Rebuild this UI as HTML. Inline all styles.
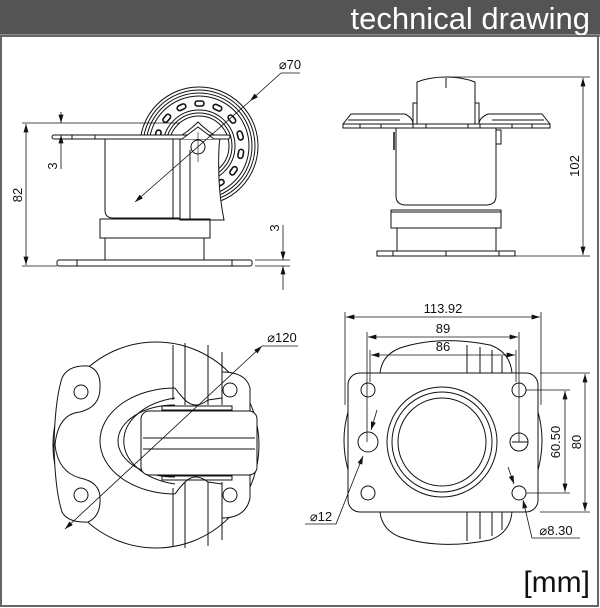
<!DOCTYPE html>
<html><head><meta charset="utf-8"><style>
html,body{margin:0;padding:0;background:#fff}
svg{display:block}
text{font-family:"Liberation Sans",Arial,sans-serif;fill:#111}
</style></head><body>
<svg width="600" height="608" viewBox="0 0 600 608" xmlns="http://www.w3.org/2000/svg">
<defs>
<marker id="a" viewBox="0 0 10 6" refX="10" refY="3" markerWidth="9" markerHeight="5" orient="auto-start-reverse" markerUnits="userSpaceOnUse"><path d="M0,0L10,3L0,6z" fill="#111"/></marker>
</defs>
<rect x="0" y="0" width="600" height="608" fill="#fff"/>
<rect x="0" y="0" width="600" height="35" fill="#545454"/>
<rect x="0" y="34" width="600" height="3" fill="#8a8a8a"/>
<text x="590" y="29" font-size="31" style="fill:#fff" text-anchor="end">technical drawing</text>
<rect x="1" y="36" width="597" height="570" fill="none" stroke="#666" stroke-width="2"/>

<g fill="none" stroke="#111" stroke-width="1">
<!-- TOP LEFT VIEW -->
<g>
<circle cx="199" cy="146" r="59"/><circle cx="199" cy="146" r="56"/><circle cx="199" cy="146" r="53"/><circle cx="199" cy="146" r="50"/>
<circle cx="199" cy="146" r="36"/><circle cx="199" cy="146" r="33"/><circle cx="199" cy="146" r="30"/>
<g stroke-width="1.6">
<rect x="195" y="101" width="9" height="5" rx="2.5"/>
<rect x="195" y="101" width="9" height="5" rx="2.5" transform="rotate(25 199 146)"/>
<rect x="195" y="101" width="9" height="5" rx="2.5" transform="rotate(50 199 146)"/>
<rect x="195" y="101" width="9" height="5" rx="2.5" transform="rotate(75 199 146)"/>
<rect x="195" y="101" width="9" height="5" rx="2.5" transform="rotate(100 199 146)"/>
<rect x="195" y="101" width="9" height="5" rx="2.5" transform="rotate(125 199 146)"/>
<rect x="195" y="101" width="9" height="5" rx="2.5" transform="rotate(150 199 146)"/>
<rect x="195" y="101" width="9" height="5" rx="2.5" transform="rotate(-25 199 146)"/>
<rect x="195" y="101" width="9" height="5" rx="2.5" transform="rotate(-50 199 146)"/>
<rect x="195" y="101" width="9" height="5" rx="2.5" transform="rotate(-75 199 146)"/>
</g>
<path d="M180 138 L180 220 L224 220 Q220 200 219 180 Q218 150 220 138 Z" fill="#fff"/>
<path d="M105 139 L105 210 Q105 218 113 218 L180 218 L180 139 Z" fill="#fff"/>
<rect x="52" y="135" width="178" height="4" rx="2" fill="#fff"/>
<line x1="72" y1="135" x2="72" y2="139"/><line x1="95" y1="135" x2="95" y2="139"/>
<path d="M182 139 Q190 133 198 127 Q206 133 214 139" fill="#fff"/>
<path d="M182 135 Q190 130 198 122 Q206 130 214 135"/>
<circle cx="198" cy="147" r="7" fill="#fff"/>
<line x1="198" y1="132" x2="198" y2="162" stroke-width="0.6"/>
<line x1="173" y1="139" x2="173" y2="218"/><line x1="190" y1="150" x2="190" y2="220"/>
<rect x="100" y="219" width="110" height="19"/>
<rect x="105" y="238" width="99" height="22"/>
<rect x="57" y="260" width="195" height="6" rx="2"/>
<line x1="77" y1="260" x2="77" y2="266"/><line x1="232" y1="260" x2="232" y2="266"/>
</g>
<g stroke-width="0.8">
<line x1="22" y1="123" x2="180" y2="123"/>
<line x1="22" y1="266" x2="57" y2="266"/>
<line x1="26" y1="124" x2="26" y2="265" marker-start="url(#a)" marker-end="url(#a)"/>
<line x1="61" y1="112" x2="61" y2="123" marker-end="url(#a)"/>
<line x1="61" y1="169" x2="61" y2="135" marker-end="url(#a)"/>
<line x1="255" y1="260" x2="290" y2="260"/>
<line x1="255" y1="266" x2="290" y2="266"/>
<line x1="283" y1="225" x2="283" y2="260" marker-end="url(#a)"/>
<line x1="283" y1="290" x2="283" y2="266" marker-end="url(#a)"/>
<line x1="135" y1="202" x2="250" y2="101" marker-start="url(#a)"/>
<line x1="250" y1="101" x2="281" y2="73" marker-start="url(#a)"/>
<line x1="281" y1="73" x2="300" y2="73"/>
</g>
<!-- TOP RIGHT VIEW -->
<g>
<path d="M417 124 L417 82 Q430 77 446 77 Q462 77 475 82 L475 124"/>
<line x1="446" y1="78" x2="446" y2="88"/>
<path d="M413 124 L413 103 L417 103 M479 124 L479 103 L475 103"/>
<path d="M343 124 L351 114 L405 114 Q413 118 413 124"/>
<path d="M550 124 L542 114 L488 114 Q479 118 479 124"/>
<path d="M348 120 L400 120 M544 120 L492 120"/>
<rect x="343" y="124" width="207" height="4"/>
<line x1="360" y1="124" x2="360" y2="128"/><line x1="381" y1="124" x2="381" y2="128"/><line x1="413" y1="124" x2="413" y2="128"/><line x1="426" y1="124" x2="426" y2="128"/><line x1="468" y1="124" x2="468" y2="128"/><line x1="480" y1="124" x2="480" y2="128"/><line x1="512" y1="124" x2="512" y2="128"/><line x1="532" y1="124" x2="532" y2="128"/>
<path d="M396 128 L396 196 Q396 205 406 205 L486 205 Q496 205 496 196 L496 128"/>
<rect x="496" y="130" width="5" height="14"/>
<line x1="394" y1="132" x2="394" y2="150" stroke-width="1.5"/>
<rect x="391" y="210" width="110" height="18"/>
<line x1="391" y1="212" x2="501" y2="212"/>
<rect x="397" y="228" width="99" height="23"/>
<rect x="377" y="251" width="138" height="5"/>
<line x1="393" y1="251" x2="393" y2="256"/><line x1="446" y1="251" x2="446" y2="256"/><line x1="499" y1="251" x2="499" y2="256"/>
</g>
<g stroke-width="0.8">
<line x1="446" y1="77" x2="590" y2="77"/>
<line x1="515" y1="256" x2="590" y2="256"/>
<line x1="583" y1="78" x2="583" y2="255" marker-start="url(#a)" marker-end="url(#a)"/>
</g>
<!-- BOTTOM LEFT VIEW -->
<g>
<circle cx="156" cy="445" r="103"/>
<path d="M62 378 Q68 365 88 366 Q101 370 100 388 Q100 407 80 412 Q58 414 55 445 Q58 472 80 478 Q100 482 100 498 Q101 516 88 522 Q68 523 62 512 Q55 490 54 445 Q55 400 62 378 Z" fill="#fff"/>
<circle cx="81" cy="392" r="7"/><circle cx="81" cy="495" r="7"/>
<path d="M222 372 Q246 372 250 388 L250 498 Q246 518 222 518" fill="#fff"/>
<circle cx="230" cy="390" r="7"/><circle cx="230" cy="495" r="7"/>
<line x1="173" y1="345" x2="173" y2="400"/><line x1="185" y1="343" x2="185" y2="405"/><line x1="208" y1="345" x2="208" y2="405"/><line x1="222" y1="352" x2="222" y2="405"/>
<line x1="173" y1="488" x2="173" y2="546"/><line x1="185" y1="482" x2="185" y2="548"/><line x1="208" y1="482" x2="208" y2="546"/><line x1="222" y1="482" x2="222" y2="540"/>
<path d="M175 388 A75 53 0 0 0 175 494"/>
<path d="M175 398 A65 44 0 0 0 175 484"/>
<path d="M175 405 A57 36 0 0 0 175 477"/>
<path d="M175 388 Q180 395 185 400 Q195 410 208 400 L222 398"/>
<path d="M175 494 Q180 487 185 482 Q195 472 208 482 L222 484"/>
<rect x="162" y="406" width="70" height="4"/><rect x="162" y="476" width="70" height="4"/>
<rect x="141" y="411" width="116" height="64" rx="8" fill="#fff"/>
<line x1="143" y1="438" x2="255" y2="438"/><line x1="143" y1="449" x2="255" y2="449"/>
</g>
<g stroke-width="0.8">
<line x1="65" y1="529" x2="262" y2="346" marker-start="url(#a)" marker-end="url(#a)"/>
<line x1="262" y1="346" x2="298" y2="346"/>
</g>
<!-- BOTTOM RIGHT VIEW -->
<g>
<path d="M380 373 Q382 355 400 348 Q440 335 490 345 Q510 352 512 373"/>
<path d="M380 512 Q382 530 400 537 Q440 550 490 540 Q510 533 512 512"/>
<line x1="467" y1="345" x2="467" y2="373"/><line x1="480" y1="347" x2="480" y2="373"/><line x1="492" y1="350" x2="492" y2="373"/><line x1="502" y1="356" x2="502" y2="373"/>
<line x1="467" y1="512" x2="467" y2="541"/><line x1="480" y1="512" x2="480" y2="539"/><line x1="492" y1="512" x2="492" y2="536"/><line x1="502" y1="512" x2="502" y2="530"/>
<path d="M348 412 Q340 440 348 470"/><path d="M538 412 Q546 440 538 470"/>
<rect x="348" y="373" width="190" height="139" rx="12" fill="#fff"/>
<circle cx="368" cy="390" r="7"/><circle cx="368" cy="493" r="7"/><circle cx="368" cy="442" r="10"/>
<circle cx="519" cy="390" r="7"/><circle cx="519" cy="493" r="7"/><circle cx="519" cy="442" r="9"/>
<line x1="512" y1="442" x2="528" y2="442"/>
<circle cx="442" cy="442" r="55"/><circle cx="442" cy="442" r="50"/><circle cx="442" cy="442" r="44"/>
</g>
<g stroke-width="0.8">
<line x1="345" y1="312" x2="345" y2="405"/><line x1="541" y1="312" x2="541" y2="405"/>
<line x1="346" y1="317" x2="540" y2="317" marker-start="url(#a)" marker-end="url(#a)"/>
<line x1="367" y1="332" x2="367" y2="442"/><line x1="519" y1="332" x2="519" y2="442"/>
<line x1="368" y1="337" x2="518" y2="337" marker-start="url(#a)" marker-end="url(#a)"/>
<line x1="370" y1="350" x2="370" y2="382"/><line x1="516" y1="350" x2="516" y2="382"/>
<line x1="371" y1="355" x2="515" y2="355" marker-start="url(#a)" marker-end="url(#a)"/>
<line x1="526" y1="390" x2="570" y2="390"/><line x1="526" y1="493" x2="570" y2="493"/>
<line x1="565" y1="391" x2="565" y2="492" marker-start="url(#a)" marker-end="url(#a)"/>
<line x1="540" y1="373" x2="590" y2="373"/><line x1="540" y1="512" x2="590" y2="512"/>
<line x1="585" y1="374" x2="585" y2="511" marker-start="url(#a)" marker-end="url(#a)"/>
<line x1="377" y1="410" x2="371" y2="430" marker-end="url(#a)"/>
<line x1="363" y1="456" x2="336" y2="524" marker-start="url(#a)"/>
<line x1="336" y1="524" x2="305" y2="524"/>
<line x1="508" y1="467" x2="514" y2="484" marker-end="url(#a)"/>
<line x1="523" y1="500" x2="532" y2="538" marker-start="url(#a)"/>
<line x1="532" y1="538" x2="580" y2="538"/>
</g>
</g>

<g font-size="13">
<text x="290" y="69" text-anchor="middle">⌀70</text>
<text x="22" y="195" text-anchor="middle" transform="rotate(-90 22 195)">82</text>
<text x="57" y="166" text-anchor="middle" transform="rotate(-90 57 166)">3</text>
<text x="279" y="228" text-anchor="middle" transform="rotate(-90 279 228)">3</text>
<text x="579" y="166" text-anchor="middle" transform="rotate(-90 579 166)">102</text>
<text x="282" y="342" text-anchor="middle">⌀120</text>
<text x="443" y="313" text-anchor="middle">113.92</text>
<text x="443" y="333" text-anchor="middle">89</text>
<text x="443" y="351" text-anchor="middle">86</text>
<text x="560" y="442" text-anchor="middle" transform="rotate(-90 560 442)">60.50</text>
<text x="581" y="442" text-anchor="middle" transform="rotate(-90 581 442)">80</text>
<text x="321" y="521" text-anchor="middle">⌀12</text>
<text x="556" y="535" text-anchor="middle">⌀8.30</text>
</g>
<text x="590" y="592" font-size="30" text-anchor="end">[mm]</text>
</svg>
</body></html>
